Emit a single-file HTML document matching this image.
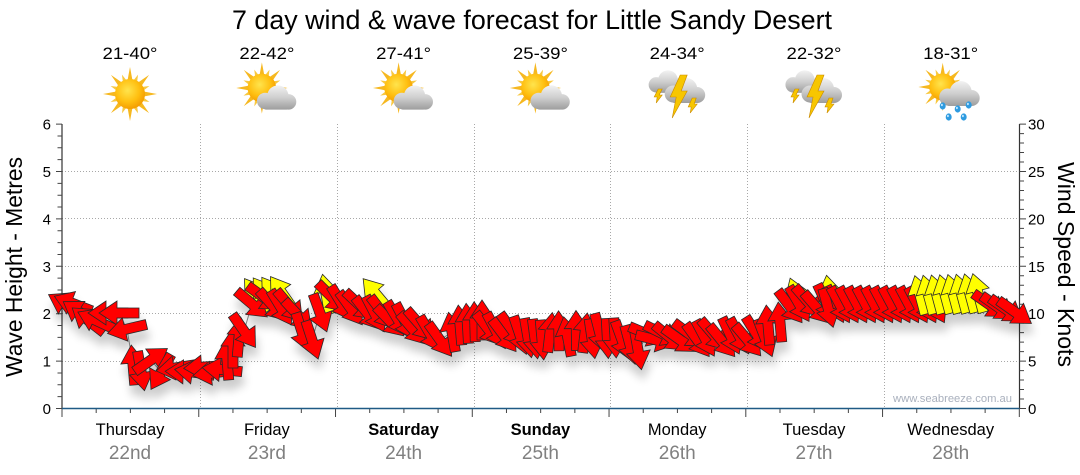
<!DOCTYPE html>
<html><head><meta charset="utf-8">
<style>
html,body{margin:0;padding:0;background:#fff;}
svg{display:block;}
text{font-family:"Liberation Sans",Arial,sans-serif;}
</style></head><body>
<svg id="c" width="1080" height="475" viewBox="0 0 1080 475" xmlns="http://www.w3.org/2000/svg">
<defs>
 <radialGradient id="sg" cx="0.42" cy="0.38" r="0.65"><stop offset="0" stop-color="#ffe44d"/><stop offset="0.6" stop-color="#ffbf10"/><stop offset="1" stop-color="#f39a00"/></radialGradient>
 <linearGradient id="cg" gradientUnits="userSpaceOnUse" x1="0" y1="-14" x2="0" y2="12"><stop offset="0" stop-color="#f2f2f2"/><stop offset="0.5" stop-color="#cdcdcd"/><stop offset="1" stop-color="#999"/></linearGradient>
 <polygon id="rl" points="-2.6,-13 0,-27 2.6,-13" fill="#f6b820"/>
 <polygon id="rs" points="-2.2,-13 0,-21 2.2,-13" fill="#f8c840"/>
 <g id="rays">
  <use href="#rl"/><use href="#rs" transform="rotate(22.5)"/><use href="#rl" transform="rotate(45)"/><use href="#rs" transform="rotate(67.5)"/>
  <use href="#rl" transform="rotate(90)"/><use href="#rs" transform="rotate(112.5)"/><use href="#rl" transform="rotate(135)"/><use href="#rs" transform="rotate(157.5)"/>
  <use href="#rl" transform="rotate(180)"/><use href="#rs" transform="rotate(202.5)"/><use href="#rl" transform="rotate(225)"/><use href="#rs" transform="rotate(247.5)"/>
  <use href="#rl" transform="rotate(270)"/><use href="#rs" transform="rotate(292.5)"/><use href="#rl" transform="rotate(315)"/><use href="#rs" transform="rotate(337.5)"/>
 </g>
 <g id="sun"><use href="#rays"/><circle r="15" fill="url(#sg)"/></g>
 <g id="cloud">
  <circle cx="-11" cy="2" r="8.5" fill="url(#cg)"/>
  <circle cx="2" cy="-3" r="11" fill="url(#cg)"/>
  <circle cx="13" cy="3" r="8" fill="url(#cg)"/>
  <rect x="-13" y="0" width="27" height="11" rx="3" fill="url(#cg)"/>
 </g>
 <g id="drop"><ellipse rx="3" ry="3.6" fill="#2e9be0"/><ellipse cx="-0.8" cy="-1" rx="1" ry="1.2" fill="#bfe6ff"/></g>
 <filter id="sh" x="-5%" y="-30%" width="110%" height="180%">
  <feGaussianBlur in="SourceAlpha" stdDeviation="4.5"/>
  <feOffset dx="2" dy="10" result="b"/>
  <feComponentTransfer in="b" result="s"><feFuncA type="linear" slope="0.2"/></feComponentTransfer>
  <feMerge><feMergeNode in="s"/><feMergeNode in="SourceGraphic"/></feMerge>
 </filter>
</defs>

<rect width="1080" height="475" fill="#fff"/>

<text x="532" y="29" text-anchor="middle" font-size="26.5" textLength="600" lengthAdjust="spacingAndGlyphs" fill="#000">7 day wind &amp; wave forecast for Little Sandy Desert</text>

<g font-size="17" fill="#000" text-anchor="middle">
 <text x="130" y="59" textLength="55" lengthAdjust="spacingAndGlyphs">21-40°</text>
 <text x="266.9" y="59" textLength="55" lengthAdjust="spacingAndGlyphs">22-42°</text>
 <text x="403.6" y="59" textLength="55" lengthAdjust="spacingAndGlyphs">27-41°</text>
 <text x="540.4" y="59" textLength="55" lengthAdjust="spacingAndGlyphs">25-39°</text>
 <text x="677.2" y="59" textLength="55" lengthAdjust="spacingAndGlyphs">24-34°</text>
 <text x="814" y="59" textLength="55" lengthAdjust="spacingAndGlyphs">22-32°</text>
 <text x="950.7" y="59" textLength="55" lengthAdjust="spacingAndGlyphs">18-31°</text>
</g>

<use href="#sun" transform="translate(130,94)"/>
<g transform="translate(266.9,92)"><use href="#sun" transform="translate(-5,-4) scale(0.95)"/><use href="#cloud" transform="translate(9,7) scale(0.97)"/></g>
<g transform="translate(403.6,92)"><use href="#sun" transform="translate(-5,-4) scale(0.95)"/><use href="#cloud" transform="translate(9,7) scale(0.97)"/></g>
<g transform="translate(540.4,92)"><use href="#sun" transform="translate(-5,-4) scale(0.95)"/><use href="#cloud" transform="translate(9,7) scale(0.97)"/></g>
<g transform="translate(677.2,92)">
 <use href="#cloud" transform="translate(-11,-9) scale(0.9)"/>
 <use href="#cloud" transform="translate(7,0) scale(1.0)"/>
 <g fill="#f7c600" stroke="#c98a00" stroke-width="0.6">
  <polygon points="-19,-3 -15,-3 -18,3 -15,3 -21,11 -20,5 -23,5"/>
  <polygon points="15,6 19,6 17,12 20,12 13,21 14,15 11,15"/>
  <polygon points="3,-17 10,-17 4,-1 10,-1 -5,26 -1,5 -7,5"/>
 </g>
</g>
<g transform="translate(814,92)">
 <use href="#cloud" transform="translate(-11,-9) scale(0.9)"/>
 <use href="#cloud" transform="translate(7,0) scale(1.0)"/>
 <g fill="#f7c600" stroke="#c98a00" stroke-width="0.6">
  <polygon points="-19,-3 -15,-3 -18,3 -15,3 -21,11 -20,5 -23,5"/>
  <polygon points="15,6 19,6 17,12 20,12 13,21 14,15 11,15"/>
  <polygon points="3,-17 10,-17 4,-1 10,-1 -5,26 -1,5 -7,5"/>
 </g>
</g>
<g transform="translate(950.7,92)">
 <use href="#sun" transform="translate(-8,-5) scale(0.9)"/>
 <use href="#cloud" transform="translate(8,3) scale(1.0)"/>
 <use href="#drop" transform="translate(-8,14)"/><use href="#drop" transform="translate(7,17)"/><use href="#drop" transform="translate(18,13)"/>
 <use href="#drop" transform="translate(-2,25)"/><use href="#drop" transform="translate(13,25)"/>
</g>

<g stroke="#a8a8a8" stroke-width="1" stroke-dasharray="1,2" fill="none">
 <path d="M62,361.5H1019M62,313.5H1019M62,266.5H1019M62,218.5H1019M62,171.5H1019"/>
 <path d="M200.5,124V408M337.5,124V408M474.5,124V408M610.5,124V408M747.5,124V408M884.5,124V408"/>
</g>

<path d="M62,124V409" stroke="#333" stroke-width="1.2" fill="none"/>
<path d="M1019.5,124V409" stroke="#333" stroke-width="1.2" fill="none"/>
<path id="ticks" d="" stroke="#444" stroke-width="1" fill="none"/>
<path d="M62,408.5H1019.5" stroke="#1f5a85" stroke-width="1.6" fill="none"/>

<g font-size="15" fill="#000" text-anchor="end">
 <text x="51" y="414">0</text><text x="51" y="366.6">1</text><text x="51" y="319.2">2</text>
 <text x="51" y="271.8">3</text><text x="51" y="224.4">4</text><text x="51" y="177">5</text><text x="51" y="129.6">6</text>
</g>
<g font-size="15" fill="#000" text-anchor="start">
 <text x="1028" y="414">0</text><text x="1028" y="366.6">5</text><text x="1028" y="319.2">10</text>
 <text x="1028" y="271.8">15</text><text x="1028" y="224.4">20</text><text x="1028" y="177">25</text><text x="1028" y="129.6">30</text>
</g>

<text transform="translate(22,267) rotate(-90)" text-anchor="middle" font-size="23" fill="#000" textLength="220" lengthAdjust="spacingAndGlyphs">Wave Height - Metres</text>
<text transform="translate(1058,264.5) rotate(90)" text-anchor="middle" font-size="23" fill="#000" textLength="205" lengthAdjust="spacingAndGlyphs">Wind Speed - Knots</text>

<g font-size="16.5" fill="#000" text-anchor="middle">
 <text x="130" y="435">Thursday</text>
 <text x="266.9" y="435">Friday</text>
 <text x="403.6" y="435" font-weight="bold">Saturday</text>
 <text x="540.4" y="435" font-weight="bold">Sunday</text>
 <text x="677.2" y="435">Monday</text>
 <text x="814" y="435">Tuesday</text>
 <text x="950.7" y="435">Wednesday</text>
</g>
<g font-size="19" fill="#808080" text-anchor="middle">
 <text x="130" y="459">22nd</text>
 <text x="266.9" y="459">23rd</text>
 <text x="403.6" y="459">24th</text>
 <text x="540.4" y="459">25th</text>
 <text x="677.2" y="459">26th</text>
 <text x="814" y="459">27th</text>
 <text x="950.7" y="459">28th</text>
</g>

<text x="893" y="402" font-size="11.3" fill="#a9b0bd" textLength="119" lengthAdjust="spacingAndGlyphs">www.seabreeze.com.au</text>

<polyline id="line" points="" fill="none" stroke="#8a8a8a" stroke-width="1"/>
<g id="arrows" filter="url(#sh)" stroke="#2a2a2a" stroke-width="0.8" stroke-linejoin="miter"></g>
</svg>

<script>
(function(){
 var d='';
 var k,y,x;
 for(k=0;k<=24;k++){y=(408.5-11.85*k).toFixed(2);d+='M'+(k%4?57.5:56)+','+y+'H62';}
 for(k=0;k<=30;k++){y=(408.5-9.48*k).toFixed(2);d+='M1019.5,'+y+'H'+(k%5?1024:1026);}
 for(k=0;k<=28;k++){x=(62+34.19*k).toFixed(2);d+='M'+x+',408.5V'+(k%4?413:417);}
 document.getElementById('ticks').setAttribute('d',d);

 var A=[];
 var STEP=8.5;
 var cnt=0;
 function push(x,y,a,col,jit){
  cnt++;
  if(jit){y+=3.5*Math.sin(cnt*2.3);a+=9*Math.sin(cnt*1.7+0.5);}
  A.push([x,y,a,col]);
 }
 function seg(col,pts,nojit){
  var jit=!nojit;
  if(pts.length==1){push(pts[0][0],pts[0][1],pts[0][2],col,false);return;}
  for(var i=0;i<pts.length-1;i++){
   var p=pts[i],q=pts[i+1];
   var n=Math.max(1,Math.round((q[0]-p[0])/STEP));
   for(var j=0;j<n;j++){var t=j/n;push(p[0]+(q[0]-p[0])*t,p[1]+(q[1]-p[1])*t,p[2]+(q[2]-p[2])*t,col,jit);}
  }
  var l=pts[pts.length-1];push(l[0],l[1],l[2],col,jit);
 }
 var Y='#ffff00',R='#ff0000';
 seg(Y,[[256,295,-125],[282,293,-125]],1);
 seg(Y,[[326,294,-100]]);
 seg(Y,[[376,294,-130]]);
 seg(Y,[[797,297,-110]]);
 seg(Y,[[830,295,-100]]);
 seg(R,[[66,301,-150],[80,312,-150],[96,324,-150]]);
 seg(R,[[108,313,180],[119,313,180]],1);
 seg(R,[[127,329,167]]);
 seg(R,[[133,365,-95]]);
 seg(R,[[141,371,80]]);
 seg(R,[[151,360,-35]]);
 seg(R,[[161,372,120]]);
 seg(R,[[176,371,180],[222,370,180]]);
 seg(R,[[227,360,-95],[233,348,-90],[239,337,-85]],1);
 seg(R,[[244,331,55]]);
 seg(R,[[252,304,40]]);
 seg(R,[[264,301,45],[298,312,55]]);
 seg(R,[[302,332,72],[312,340,72]],1);
 seg(R,[[320,313,70]]);
 seg(R,[[332,300,50],[360,309,52],[390,318,55],[420,328,55],[440,338,50]]);
 seg(R,[[452,332,-100],[460,325,-95],[482,320,-90]],1);
 seg(R,[[488,331,50],[520,334,65]]);
 seg(R,[[528,338,80],[542,340,85]],1);
 seg(R,[[550,333,-92],[585,333,-92]]);
 seg(R,[[592,336,85],[615,337,80]]);
 seg(R,[[622,340,70],[638,350,80]],1);
 seg(R,[[648,336,20],[670,337,30],[690,338,45],[705,338,55],[765,337,60]]);
 seg(R,[[768,325,-95],[780,322,-95]],1);
 seg(R,[[790,304,50],[835,305,60]]);
 seg(R,[[828,308,75]]);
 seg(R,[[840,305,62],[935,305,62]],1);
 seg(Y,[[920,295,-105],[978,293,-105]],1);
 seg(R,[[990,305,35],[1015,312,35]],1);

 var shape="M-20,-5L2,-5L2,-12L20,0L2,12L2,5L-20,5Z";
 var h='';
 for(var i=0;i<A.length;i++){
  var a=A[i];
  h+='<path d="'+shape+'" transform="translate('+a[0].toFixed(1)+','+a[1].toFixed(1)+') rotate('+a[2].toFixed(1)+')" fill="'+a[3]+'"/>';
 }
 document.getElementById('arrows').innerHTML=h;

 var reds=A.filter(function(a){return a[3]==R;}).slice().sort(function(p,q){return p[0]-q[0];});
 var pts=reds.map(function(a){return a[0].toFixed(1)+','+a[1].toFixed(1);}).join(' ');
 document.getElementById('line').setAttribute('points',pts);
})();
</script>
</body></html>
